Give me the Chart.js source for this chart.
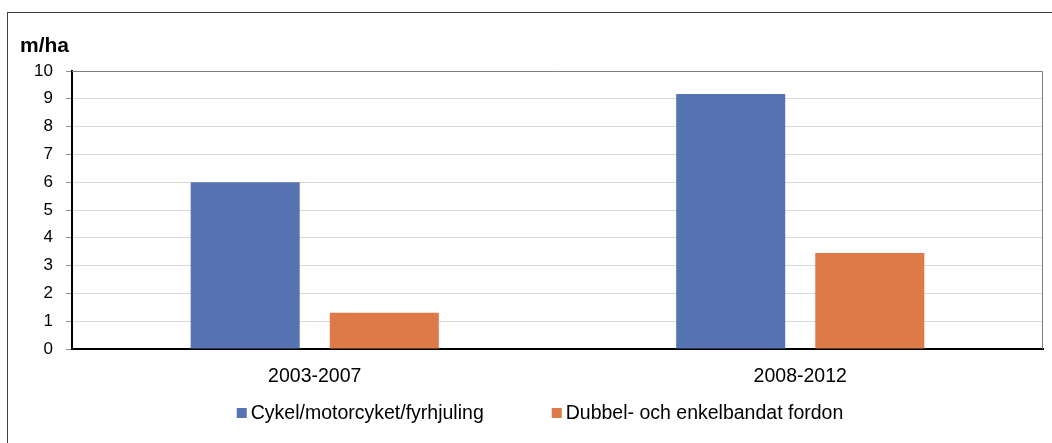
<!DOCTYPE html>
<html>
<head>
<meta charset="utf-8">
<script src="https://cdn.jsdelivr.net/npm/chart.js@4/dist/chart.umd.min.js"></script>
<style>
  html, body { margin: 0; padding: 0; background: #fff; }
  #wrap { position: relative; width: 1052px; height: 443px; overflow: hidden; }
  #frame { position: absolute; left: 7px; top: 12px; width: 1100px; height: 500px;
           border-left: 1px solid #404040; border-top: 1px solid #404040; }
  canvas { position: absolute; left: 0; top: 0; }
</style>
</head>
<body>
<div id="wrap">
  <div id="frame"></div>
  <canvas id="chart" width="1052" height="443"></canvas>
</div>
<script>
// Data
const periods = ['2003-2007', '2008-2012'];
const seriesNames = ['Cykel/motorcyket/fyrhjuling', 'Dubbel- och enkelbandat fordon'];
const cykelValues = [6.0, 9.17];
const dubbelValues = [1.3, 3.45];
const unitLabel = 'm/ha';

const FONT = "'Liberation Sans', Arial, sans-serif";

// Gray border round the plot area (top and right edges)
const plotFrame = {
  id: 'plotFrame',
  beforeDatasetsDraw(chart) {
    const { ctx, chartArea: a } = chart;
    ctx.save();
    ctx.strokeStyle = '#7f7f7f';
    ctx.lineWidth = 1;
    ctx.beginPath();
    ctx.moveTo(a.left, a.top + 0.5);
    ctx.lineTo(a.right - 0.5, a.top + 0.5);
    ctx.lineTo(a.right - 0.5, a.bottom);
    ctx.stroke();
    ctx.restore();
  }
};

// Unit label above the y axis
const unitTitle = {
  id: 'unitTitle',
  afterDraw(chart) {
    const ctx = chart.ctx;
    ctx.save();
    ctx.font = 'bold 21px ' + FONT;
    ctx.fillStyle = '#000';
    ctx.textBaseline = 'middle';
    ctx.fillText(unitLabel, 20, 46);
    ctx.restore();
  }
};

// Legend under the axis labels, wide gap between the two entries
const wideLegend = {
  id: 'wideLegend',
  afterDraw(chart) {
    const ctx = chart.ctx;
    const box = 10, textGap = 4, itemGap = 68, y = 413;
    ctx.save();
    ctx.font = '19.5px ' + FONT;
    const items = chart.data.datasets.map(ds => ({
      text: ds.label, color: ds.backgroundColor, w: ctx.measureText(ds.label).width
    }));
    let total = items.reduce((s, it) => s + box + textGap + it.w, 0) + itemGap * (items.length - 1);
    let x = 540 - total / 2;
    ctx.textBaseline = 'middle';
    items.forEach(it => {
      ctx.fillStyle = it.color;
      ctx.fillRect(x, y - box / 2, box, box);
      ctx.fillStyle = '#000';
      ctx.fillText(it.text, x + box + textGap, y + 1);
      x += box + textGap + it.w + itemGap;
    });
    ctx.restore();
  }
};

new Chart(document.getElementById('chart'), {
  type: 'bar',
  data: {
    labels: periods,
    datasets: [
      { label: seriesNames[0], data: cykelValues, backgroundColor: '#5674b2' },
      { label: seriesNames[1], data: dubbelValues, backgroundColor: '#de7a48' }
    ]
  },
  options: {
    responsive: false,
    animation: false,
    categoryPercentage: 0.573,
    barPercentage: 0.784,
    layout: { padding: { left: 8, top: 71, right: 9, bottom: 0 } },
    plugins: {
      legend: { display: false },
      tooltip: { enabled: false }
    },
    scales: {
      x: {
        grid: { display: false, drawTicks: false },
        border: { color: '#000', width: 2 },
        ticks: { color: '#000', font: { family: FONT, size: 19.5 }, padding: 16 },
        afterFit(scale) { scale.height = 94; }
      },
      y: {
        min: 0,
        max: 10,
        ticks: { stepSize: 1, color: '#000', font: { family: FONT, size: 17 }, padding: 13 },
        grid: { color: '#d9d9d9', tickColor: '#8c8c8c', tickLength: 6 },
        border: { color: '#000', width: 2 },
        afterFit(scale) { scale.width = 64; }
      }
    }
  },
  plugins: [plotFrame, unitTitle, wideLegend]
});
</script>
</body>
</html>
